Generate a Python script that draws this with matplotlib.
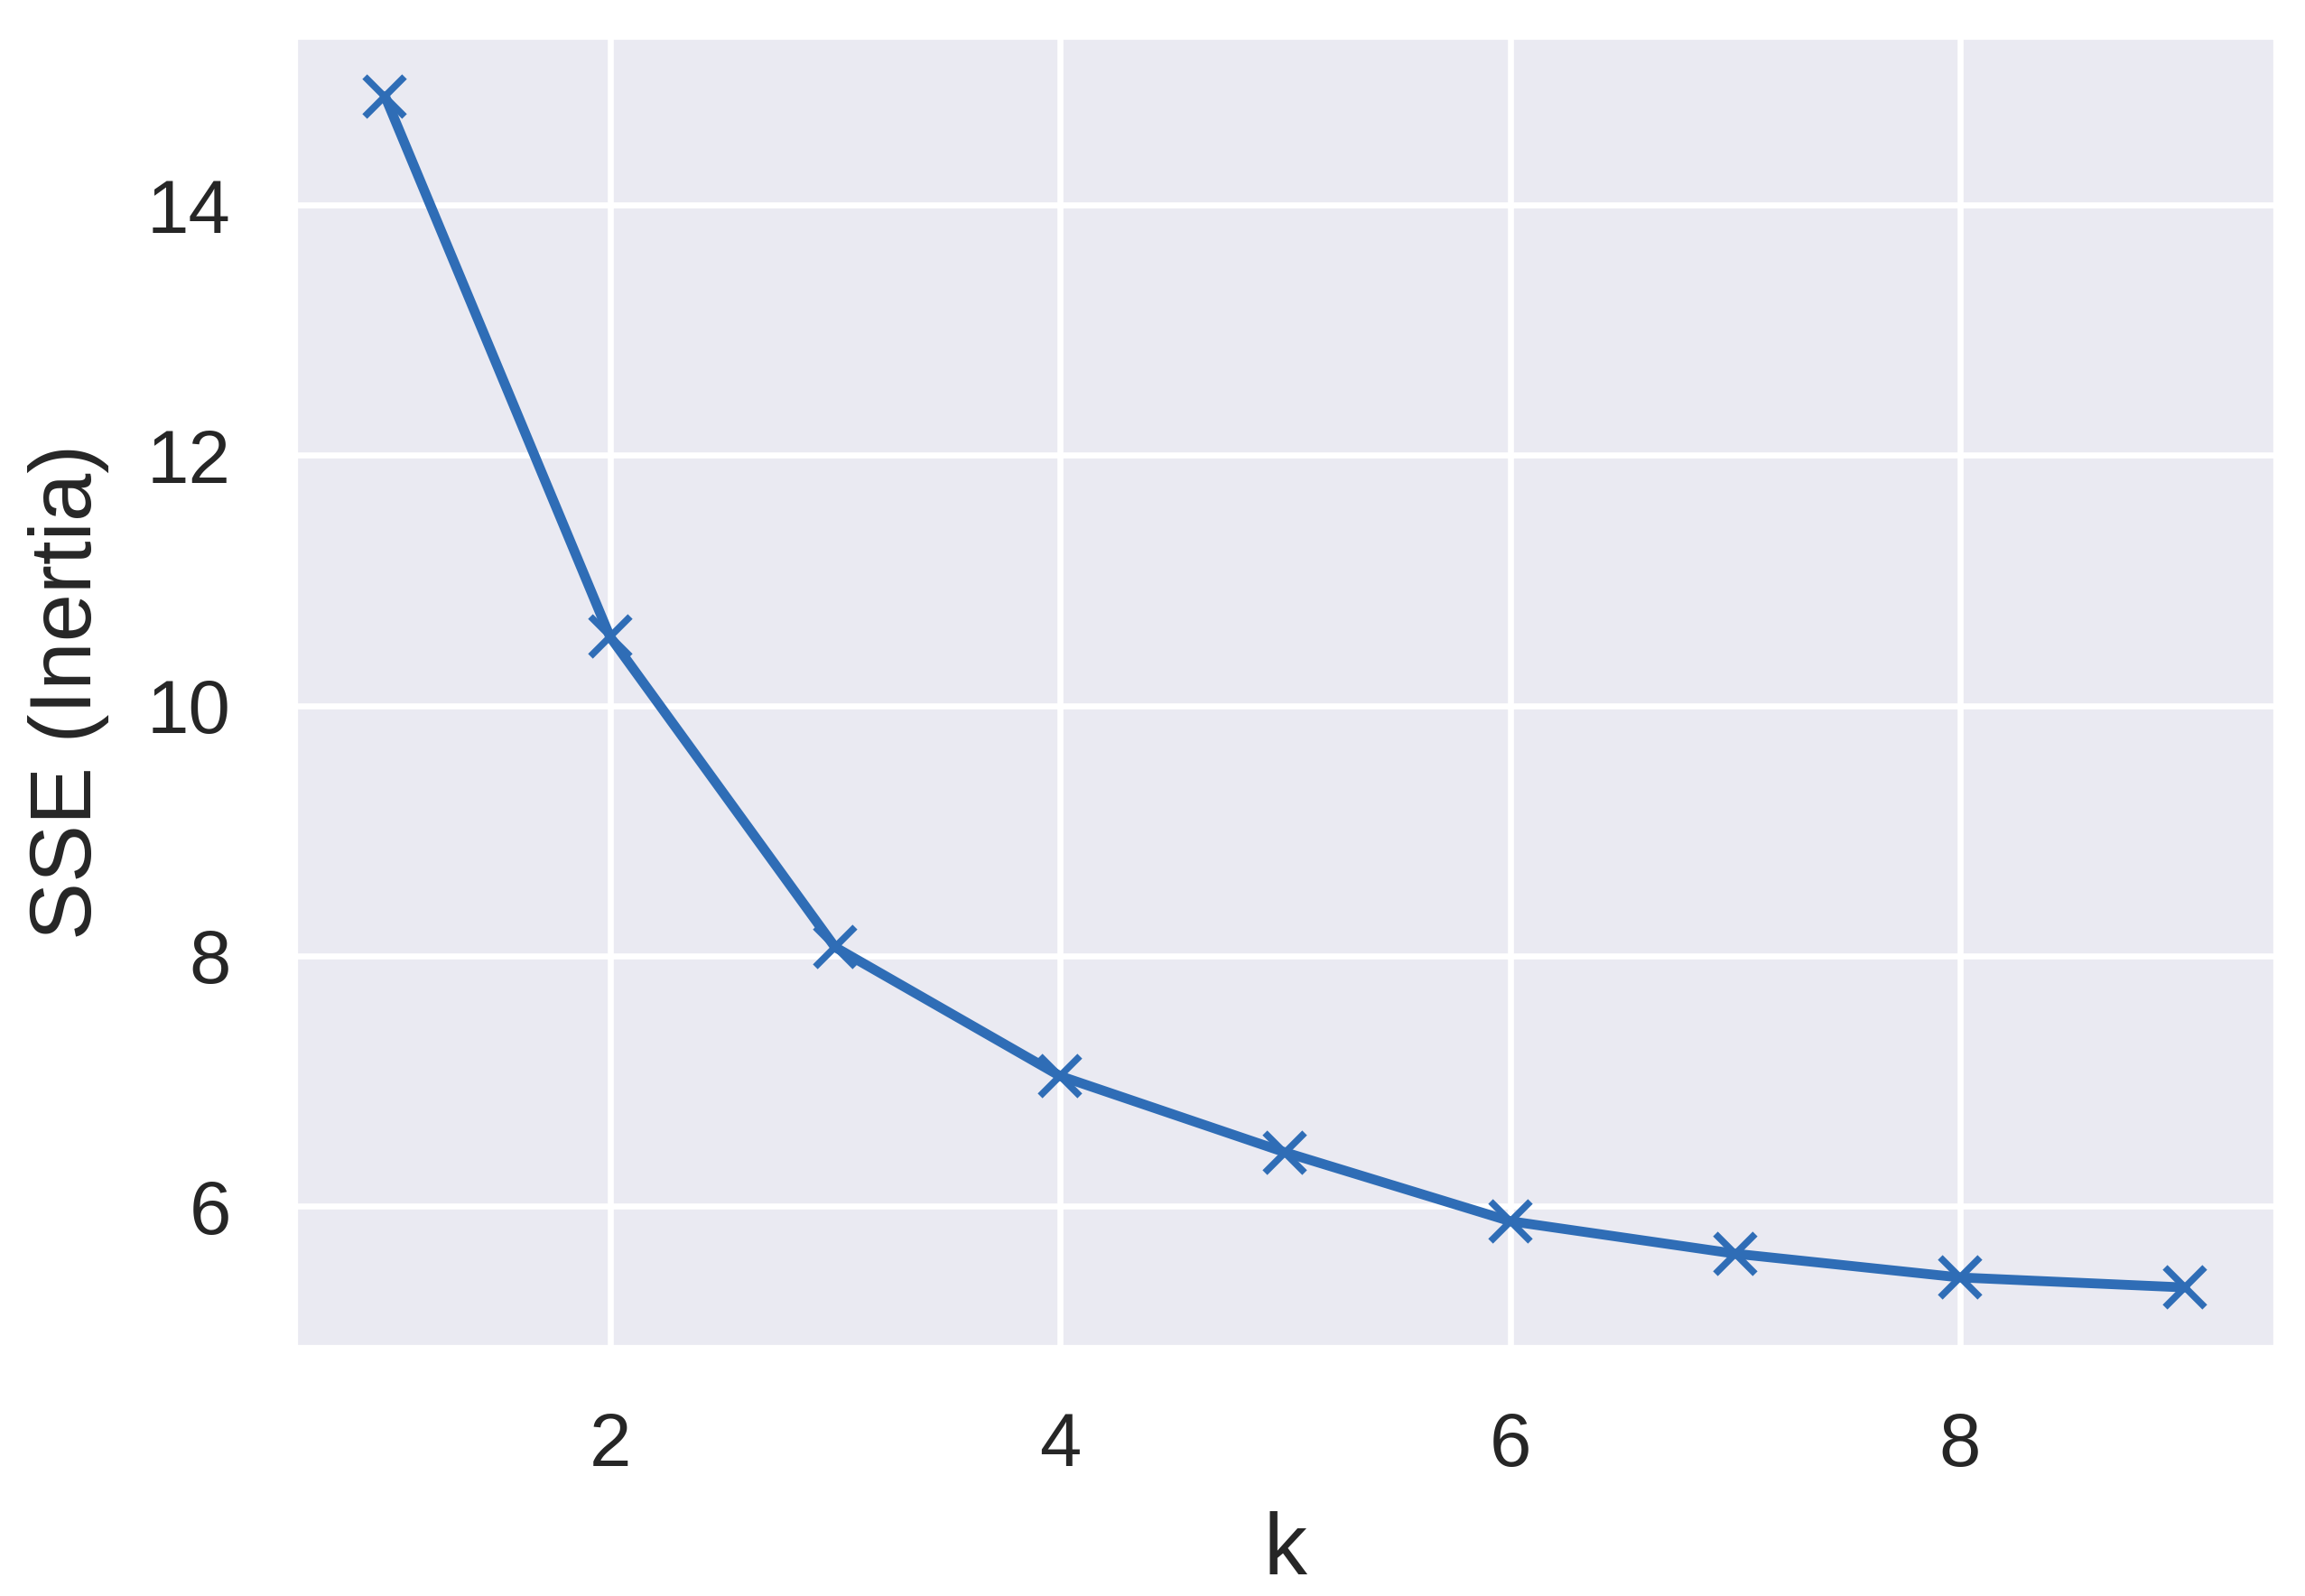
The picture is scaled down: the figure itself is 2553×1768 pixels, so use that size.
import matplotlib
matplotlib.use('Agg')
import matplotlib.pyplot as plt
import seaborn as sns

# Valeurs (méthode du coude)
k_values = [1, 2, 3, 4, 5, 6, 7, 8, 9]
sse_values = [14.87, 10.55, 8.07, 7.04, 6.43, 5.88, 5.62, 5.43, 5.35]
x_ticks = [2, 4, 6, 8]
y_ticks = [6, 8, 10, 12, 14]

sns.set_theme(style='darkgrid')
plt.rcParams['font.family'] = ['Liberation Sans', 'DejaVu Sans']

fig = plt.figure(figsize=(2553/300, 1768/300), dpi=300)
ax = fig.add_axes([0.128, 0.156, 0.859, 0.821])

ax.plot(k_values, sse_values, color='#2f6db6', linewidth=2.6,
        marker='x', markersize=10.5, markeredgewidth=1.8)

ax.set_xticks(x_ticks)
ax.set_yticks(y_ticks)
ax.tick_params(axis='both', labelsize=20, colors='#262626', pad=11)
ax.grid(True, color='white', linewidth=1.6)

ax.set_xlabel('k', fontsize=23, color='#262626', labelpad=8)
ax.set_ylabel('SSE (Inertia)', fontsize=23, color='#262626', labelpad=10)

fig.savefig('out.png', dpi=300)
